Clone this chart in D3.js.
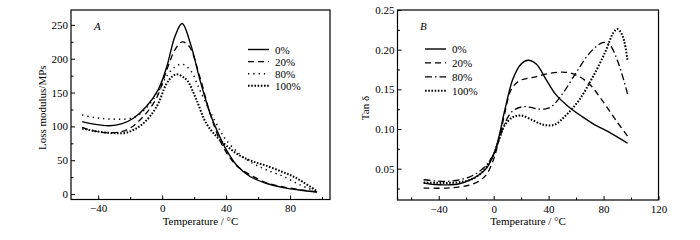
<!DOCTYPE html>
<html>
<head>
<meta charset="utf-8">
<script src="https://cdn.jsdelivr.net/npm/d3@7"></script>
<style>
  body { margin: 0; background: #fff; }
  svg { display: block; font-family: "Liberation Serif", "Times New Roman", serif; }
</style>
</head>
<body>
<svg id="chart" width="700" height="240"></svg>
<script>
const seriesNames = ["0%", "20%", "80%", "100%"];

// Panel A: loss modulus (MPs) against temperature (°C), [T, value]
const lossA0 = [[-50,107],[-42,103],[-33,101],[-25,104],[-18,112],[-10,129],[-2.5,154],[3,189],[8,233],[12.5,252],[18,220],[23.5,170],[30,119],[36,85],[40,66],[46.5,43],[55,26],[65,16],[75,10],[86,6],[97,3]];
const lossA20 = [[-50,98.5],[-42,93],[-33,90.5],[-22,95],[-12,114],[-3.5,142],[3,184],[8,213],[12.5,225],[17,218],[23.5,174],[30,119],[36,80],[42,55],[48.5,38],[57,26],[65,17],[75,11],[86,6.5],[97,3]];
const lossA80 = [[-50,117],[-42,113],[-33,111],[-18,113],[-10,127],[-2.5,151],[3,175],[8,188],[12.5,192],[18,182],[23.5,154],[30,122],[36,95],[40,80],[48.5,59],[57,45],[65,36],[75,27],[86,14],[97,3]];
const lossA100 = [[-50,97],[-42,93],[-33,90.5],[-22,91],[-12,104],[-3.5,129],[2.5,162],[6,173],[9,177],[13,173],[16,167],[21.5,139],[27.5,105],[34,85],[40,72],[48.5,57],[57,48],[65,42],[75,33],[82,26],[88,18],[97,4]];

// Panel B: tan delta against temperature (°C), [T, value]
const tanB0 = [[-51,0.0317],[-43,0.030],[-34,0.0296],[-25,0.031],[-17,0.036],[-10,0.043],[-5,0.051],[0,0.068],[2,0.0775],[5,0.099],[8,0.123],[14,0.163],[20,0.182],[25,0.1867],[31,0.182],[38,0.163],[45,0.144],[55,0.1275],[65,0.115],[74,0.105],[84,0.096],[97.5,0.082]];
const tanB20 = [[-51,0.0255],[-34,0.0255],[-25,0.027],[-17,0.0296],[-10,0.035],[-5,0.043],[0,0.062],[2,0.0734],[5,0.095],[8,0.119],[12.8,0.150],[19,0.161],[28.5,0.165],[40.5,0.170],[52,0.1715],[60,0.168],[69.5,0.157],[79,0.136],[89,0.111],[97.5,0.091]];
const tanB80 = [[-51,0.036],[-42,0.0345],[-34,0.034],[-25,0.036],[-17,0.040],[-10,0.047],[-5,0.055],[0,0.068],[2,0.0775],[5,0.092],[8,0.107],[14,0.123],[21,0.128],[26,0.1275],[33,0.125],[38,0.1255],[42,0.128],[50,0.144],[60,0.171],[70,0.196],[78,0.208],[81,0.209],[85,0.205],[91,0.182],[97.5,0.144]];
const tanB100 = [[-51,0.0325],[-42,0.0322],[-34,0.032],[-25,0.033],[-17,0.036],[-10,0.043],[-5,0.053],[0,0.068],[2,0.0775],[5,0.092],[8,0.1046],[14,0.115],[20,0.117],[28.5,0.111],[35,0.106],[40,0.1045],[45,0.106],[52.5,0.117],[62,0.136],[72,0.165],[81.5,0.198],[87,0.221],[90,0.226],[92.5,0.222],[95,0.211],[97.5,0.186]];

// tick labels
const ticksAx = [-40, 0, 40, 80], minorAx = [-20, 20, 60, 100];
const ticksAy = [0, 50, 100, 150, 200, 250], minorAy = [25, 75, 125, 175, 225];
const ticksBx = [-40, 0, 40, 80, 120], minorBx = [-60, -20, 20, 60, 100];
const ticksBy = [0.05, 0.10, 0.15, 0.20, 0.25], minorBy = [0.025, 0.075, 0.125, 0.175, 0.225];

const svg = d3.select("#chart");
svg.append("rect").attr("width", 700).attr("height", 240).attr("fill", "#fff");

function drawPanel(opt) {
  const { left, right, top, bottom } = opt.box;
  const x = d3.scaleLinear().domain(opt.xDomain).range([left, right]);
  const y = d3.scaleLinear().domain(opt.yDomain).range([bottom, top]);
  const g = svg.append("g");

  // major + minor ticks, pointing inward
  const ax = g.append("g").attr("transform", `translate(0,${bottom})`)
    .call(d3.axisBottom(x).tickValues(opt.xTicks).tickSizeInner(-4).tickSizeOuter(0).tickPadding(5));
  g.append("g").attr("transform", `translate(0,${bottom})`)
    .call(d3.axisBottom(x).tickValues(opt.xMinor).tickSizeInner(-2.5).tickSizeOuter(0).tickFormat(""));
  g.append("g").attr("transform", `translate(${left},0)`)
    .call(d3.axisLeft(y).tickValues(opt.yTicks).tickSizeInner(-4).tickSizeOuter(0).tickPadding(3).tickFormat(opt.yFormat));
  g.append("g").attr("transform", `translate(${left},0)`)
    .call(d3.axisLeft(y).tickValues(opt.yMinor).tickSizeInner(-2.5).tickSizeOuter(0).tickFormat(""));
  g.selectAll(".domain").remove();
  g.selectAll(".tick line").attr("stroke", "#000").attr("stroke-width", 1);
  g.selectAll(".tick text").attr("font-size", 11).attr("font-family", "Liberation Serif").attr("fill", "#000");

  g.append("rect")
    .attr("x", left).attr("y", top)
    .attr("width", right - left).attr("height", bottom - top)
    .attr("fill", "none").attr("stroke", "#000").attr("stroke-width", 1.2);

  const line = d3.line()
    .x(d => x(d[0]))
    .y(d => y(d[1]))
    .curve(d3.curveCatmullRom.alpha(0.5));

  opt.series.forEach((s, i) => {
    g.append("path")
      .datum(s)
      .attr("d", line)
      .attr("fill", "none")
      .attr("stroke", "#000")
      .attr("stroke-width", opt.widths[i])
      .attr("stroke-dasharray", opt.dashes[i]);
  });

  // legend
  seriesNames.forEach((name, i) => {
    const ly = opt.legend.y + i * opt.legend.step;
    g.append("line")
      .attr("x1", opt.legend.x).attr("x2", opt.legend.x + 21)
      .attr("y1", ly).attr("y2", ly)
      .attr("stroke", "#000")
      .attr("stroke-width", opt.widths[i])
      .attr("stroke-dasharray", opt.dashes[i]);
    g.append("text")
      .attr("x", opt.legend.x + 27).attr("y", ly + 4)
      .attr("font-size", 11)
      .text(name);
  });

  g.append("text")
    .attr("x", opt.tag.x).attr("y", opt.tag.y)
    .attr("font-size", 11).attr("font-style", "italic")
    .text(opt.tag.text);

  g.append("text")
    .attr("x", (left + right) / 2).attr("y", 225)
    .attr("text-anchor", "middle").attr("font-size", 11)
    .text("Temperature / °C");

  g.append("text")
    .attr("transform", `translate(${opt.yTitle.x},${(top + bottom) / 2 + 3}) rotate(-90)`)
    .attr("text-anchor", "middle").attr("font-size", 11)
    .text(opt.yTitle.text);
}

drawPanel({
  box: { left: 71, right: 330, top: 10, bottom: 199.5 },
  xDomain: [-57, 105], yDomain: [-8, 272],
  xTicks: ticksAx, xMinor: minorAx, yTicks: ticksAy, yMinor: minorAy,
  yFormat: d3.format("d"),
  series: [lossA0, lossA20, lossA80, lossA100],
  dashes: [null, "6,4", "1.3,4", "1.6,1.6"],
  widths: [1.4, 1.3, 1.5, 2],
  legend: { x: 248, y: 49.5, step: 12.1 },
  tag: { x: 94, y: 30, text: "A" },
  yTitle: { x: 46, text: "Loss modulus/MPs" }
});

drawPanel({
  box: { left: 397.5, right: 658.5, top: 10, bottom: 200 },
  xDomain: [-70, 120], yDomain: [0.0105, 0.25],
  xTicks: ticksBx, xMinor: minorBx, yTicks: ticksBy, yMinor: minorBy,
  yFormat: d3.format(".2f"),
  series: [tanB0, tanB20, tanB80, tanB100],
  dashes: [null, "6,4", "7,3,1.5,3", "1.6,1.6"],
  widths: [1.4, 1.3, 1.3, 2],
  legend: { x: 425, y: 49, step: 13.9 },
  tag: { x: 420, y: 30, text: "B" },
  yTitle: { x: 369, text: "Tan δ" }
});
</script>
</body>
</html>
